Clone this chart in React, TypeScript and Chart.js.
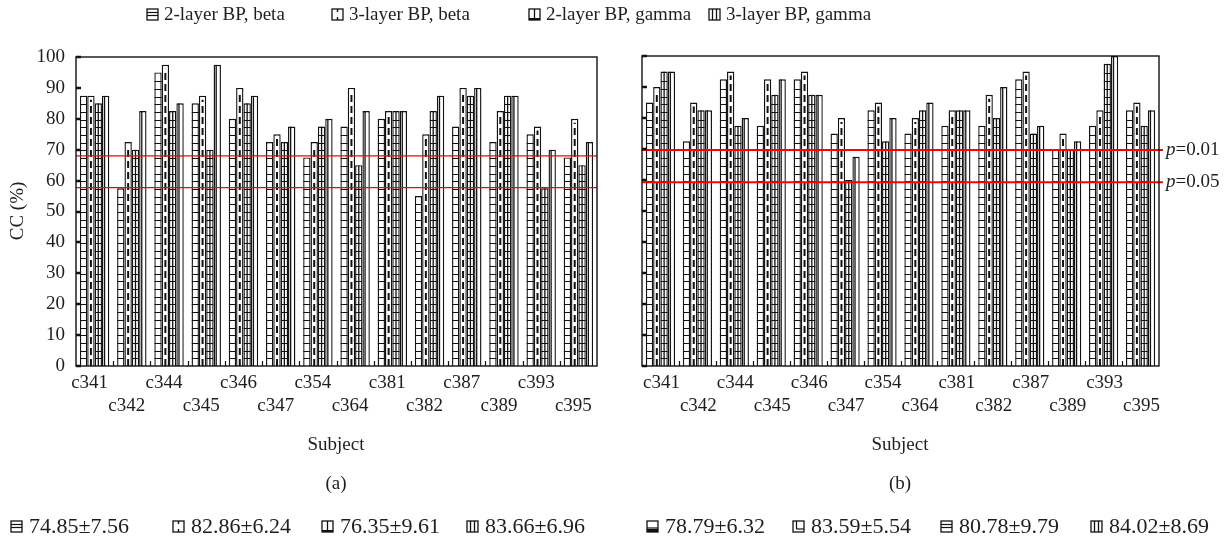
import React, { useEffect, useRef } from 'react';
import { Chart, registerables } from 'chart.js';

Chart.register(...registerables);

const FONT = '"Liberation Serif", "Times New Roman", serif';
const TEXT = '#1e1e1e';

// ---------------- data ----------------
const subjects = ['c341', 'c342', 'c344', 'c345', 'c346', 'c347', 'c354', 'c364', 'c381', 'c382', 'c387', 'c389', 'c393', 'c395'];
const seriesNames = ['2-layer BP, beta', '3-layer BP, beta', '2-layer BP, gamma', '3-layer BP, gamma'];

// panel (a)
const beta2A = [87.5, 57.5, 95, 85, 80, 72.5, 67.5, 77.5, 80, 55, 77.5, 72.5, 75, 67.5];
const beta3A = [87.5, 72.5, 97.5, 87.5, 90, 75, 72.5, 90, 82.5, 75, 90, 82.5, 77.5, 80];
const gamma2A = [85, 70, 82.5, 70, 85, 72.5, 77.5, 65, 82.5, 82.5, 87.5, 87.5, 57.5, 65];
const gamma3A = [87.5, 82.5, 85, 97.5, 87.5, 77.5, 80, 82.5, 82.5, 87.5, 90, 87.5, 70, 72.5];

// panel (b)
const beta2B = [85, 72.5, 92.5, 77.5, 92.5, 75, 82.5, 75, 77.5, 77.5, 92.5, 70, 77.5, 82.5];
const beta3B = [90, 85, 95, 92.5, 95, 80, 85, 80, 82.5, 87.5, 95, 75, 82.5, 85];
const gamma2B = [95, 82.5, 77.5, 87.5, 87.5, 60, 72.5, 82.5, 82.5, 80, 75, 70, 97.5, 77.5];
const gamma3B = [95, 82.5, 80, 92.5, 87.5, 67.5, 80, 85, 82.5, 90, 77.5, 72.5, 100, 82.5];

const yMin = 0;
const yMax = 100;
const yStep = 10;

const thresholdsA = [68, 57.7];
const thresholdsB = [69.7, 59.3];
const thresholdLabelsB = ['0.01', '0.05'];

const statsA = ['74.85±7.56', '82.86±6.24', '76.35±9.61', '83.66±6.96'];
const statsB = ['78.79±6.32', '83.59±5.54', '80.78±9.79', '84.02±8.69'];
const statIconsA = ['h', 'd', 'g2', 'g3'];
const statIconsB = ['hb', 'l', 'h', 'g3'];

// ---------------- drawing helpers ----------------
function decorateBar(ctx: CanvasRenderingContext2D, bar: any, di: number) {
  const { x, y, base, width } = bar.getProps(['x', 'y', 'base', 'width'], true);
  const l = x - width / 2;
  const r = x + width / 2;
  ctx.save();
  ctx.beginPath();
  ctx.rect(l, y, width, base - y);
  ctx.clip();
  ctx.strokeStyle = '#111';
  ctx.lineWidth = 1.1;
  if (di === 0 || di === 2) {
    ctx.beginPath();
    for (let yy = base - 7.7; yy > y + 3; yy -= 7.7) {
      const py = Math.round(yy) + 0.5;
      ctx.moveTo(l, py);
      ctx.lineTo(r, py);
    }
    ctx.stroke();
  }
  if (di === 1) {
    ctx.lineWidth = 2;
    ctx.setLineDash([7, 4]);
    ctx.beginPath();
    ctx.moveTo(x, base);
    ctx.lineTo(x, y + 4);
    ctx.stroke();
  }
  if (di === 2) {
    ctx.lineWidth = 1.3;
    ctx.beginPath();
    ctx.moveTo(x, base);
    ctx.lineTo(x, y);
    ctx.stroke();
  }
  if (di === 3) {
    ctx.lineWidth = 1.3;
    ctx.beginPath();
    ctx.moveTo(l + 2.6, base);
    ctx.lineTo(l + 2.6, y);
    ctx.stroke();
  }
  ctx.restore();
}

function makeOverlay(cfg: { thresholds: number[]; pLabels: string[] | null; labelShift: number; yTitle: string | null }) {
  return {
    id: 'overlay',
    afterDatasetsDraw(chart: any) {
      const ctx = chart.ctx as CanvasRenderingContext2D;
      chart.data.datasets.forEach((_ds: any, di: number) => {
        const meta = chart.getDatasetMeta(di);
        meta.data.forEach((bar: any) => decorateBar(ctx, bar, di));
      });
    },
    afterDraw(chart: any) {
      const ctx = chart.ctx as CanvasRenderingContext2D;
      const { left, right, top, bottom } = chart.chartArea;
      const ys = chart.scales.y;
      const xs = chart.scales.x;
      ctx.save();
      // threshold lines
      ctx.strokeStyle = '#ff0000';
      ctx.lineWidth = cfg.pLabels ? 2 : 1.3;
      cfg.thresholds.forEach((t, i) => {
        const py = ys.getPixelForValue(t);
        ctx.beginPath();
        ctx.moveTo(left, py);
        ctx.lineTo(cfg.pLabels ? right + 4 : right, py);
        ctx.stroke();
        if (cfg.pLabels) {
          ctx.fillStyle = TEXT;
          ctx.textBaseline = 'middle';
          ctx.textAlign = 'left';
          ctx.font = `italic 19px ${FONT}`;
          const x0 = right + 7;
          ctx.fillText('p', x0, py);
          const pw = ctx.measureText('p').width;
          ctx.font = `19px ${FONT}`;
          ctx.fillText('=' + cfg.pLabels[i], x0 + pw, py);
        }
      });
      // frame
      ctx.strokeStyle = '#111';
      ctx.lineWidth = 1.4;
      ctx.strokeRect(left, top, right - left, bottom - top);
      // inward y ticks
      ctx.lineWidth = 2.4;
      ctx.beginPath();
      for (let v = yMin; v <= yMax; v += yStep) {
        const py = Math.round(ys.getPixelForValue(v));
        ctx.moveTo(left, py);
        ctx.lineTo(left + 5, py);
      }
      ctx.stroke();
      // inward x ticks at group boundaries
      ctx.lineWidth = 1.2;
      ctx.beginPath();
      for (let i = 1; i < subjects.length; i++) {
        const px = Math.round((xs.getPixelForValue(i - 1) + xs.getPixelForValue(i)) / 2) + 0.5;
        ctx.moveTo(px, bottom);
        ctx.lineTo(px, bottom - 5);
      }
      ctx.stroke();
      // x labels, staggered in two rows
      ctx.fillStyle = TEXT;
      ctx.font = `19px ${FONT}`;
      ctx.textAlign = 'center';
      ctx.textBaseline = 'middle';
      subjects.forEach((s, i) => {
        const px = xs.getPixelForValue(i) + cfg.labelShift;
        ctx.fillText(s, px, i % 2 === 0 ? 383 : 406);
      });
      // y title
      if (cfg.yTitle) {
        ctx.save();
        ctx.translate(18, 211);
        ctx.rotate(-Math.PI / 2);
        ctx.fillText(cfg.yTitle, 0, 0);
        ctx.restore();
      }
      ctx.restore();
    },
  };
}

function buildDatasets(values: number[][]) {
  return values.map((v, i) => ({
    label: seriesNames[i],
    data: v,
    backgroundColor: '#ffffff',
    borderColor: '#111111',
    borderWidth: 1.4,
    categoryPercentage: 0.79,
    barPercentage: 1.0,
  }));
}

function Panel(props: {
  values: number[][];
  left: number;
  padding: { left: number; right: number; top: number; bottom: number };
  showY: boolean;
  thresholds: number[];
  pLabels: string[] | null;
  labelShift: number;
}) {
  const ref = useRef<HTMLCanvasElement | null>(null);
  useEffect(() => {
    if (!ref.current) return;
    const yScale: any = {
      display: props.showY,
      min: yMin,
      max: yMax,
      grid: { display: false, drawTicks: false },
      border: { display: false },
      ticks: {
        stepSize: yStep,
        padding: 11,
        color: TEXT,
        font: { family: FONT, size: 19 },
      },
    };
    if (props.showY) {
      yScale.afterFit = (scale: any) => {
        scale.width = 76;
      };
    }
    const chart = new Chart(ref.current, {
      type: 'bar',
      data: { labels: subjects, datasets: buildDatasets(props.values) as any },
      options: {
        responsive: false,
        animation: false,
        layout: { padding: props.padding },
        plugins: { legend: { display: false }, tooltip: { enabled: false } },
        scales: {
          x: { display: false, offset: true, grid: { display: false } },
          y: yScale,
        },
      },
      plugins: [makeOverlay({ thresholds: props.thresholds, pLabels: props.pLabels, labelShift: props.labelShift, yTitle: props.showY ? 'CC (%)' : null })],
    });
    return () => chart.destroy();
  }, []);
  return (
    <canvas
      ref={ref}
      width={613}
      height={540}
      style={{ position: 'absolute', left: props.left, top: 0, width: 613, height: 540, display: 'block' }}
    />
  );
}

function Icon({ kind }: { kind: string }) {
  const s = 11;
  return (
    <svg width={s + 2} height={s + 2} style={{ display: 'block', flex: 'none' }}>
      <rect x={1} y={1} width={s} height={s} fill="#fff" stroke="#111" strokeWidth={1.3} />
      {kind === 'h' && (
        <>
          <line x1={1} y1={4.5} x2={12} y2={4.5} stroke="#111" strokeWidth={1.2} />
          <line x1={1} y1={7.5} x2={12} y2={7.5} stroke="#111" strokeWidth={1.2} />
        </>
      )}
      {kind === 'hb' && (
        <>
          <line x1={1} y1={8} x2={12} y2={8} stroke="#111" strokeWidth={1.2} />
          <rect x={1} y={9} width={11} height={3} fill="#111" />
        </>
      )}
      {kind === 'd' && (
        <>
          <line x1={6.5} y1={1} x2={6.5} y2={4} stroke="#111" strokeWidth={1.4} />
          <line x1={6.5} y1={9} x2={6.5} y2={12} stroke="#111" strokeWidth={1.4} />
        </>
      )}
      {kind === 'l' && (
        <>
          <line x1={4.5} y1={1} x2={4.5} y2={9} stroke="#111" strokeWidth={1.2} />
          <line x1={4.5} y1={9} x2={12} y2={9} stroke="#111" strokeWidth={1.2} />
        </>
      )}
      {kind === 'g2' && (
        <>
          <line x1={6.5} y1={1} x2={6.5} y2={12} stroke="#111" strokeWidth={1.3} />
          <rect x={1} y={10} width={11} height={2} fill="#111" />
        </>
      )}
      {kind === 'g3' && (
        <>
          <line x1={4.5} y1={1} x2={4.5} y2={12} stroke="#111" strokeWidth={1.3} />
          <line x1={8.5} y1={1} x2={8.5} y2={12} stroke="#111" strokeWidth={1.3} />
        </>
      )}
    </svg>
  );
}

const textStyle: React.CSSProperties = {
  position: 'absolute',
  fontFamily: FONT,
  fontSize: 19,
  color: TEXT,
  whiteSpace: 'nowrap',
  lineHeight: '24px',
};

function IconText({ x, y, kind, text, size, gap }: { x: number; y: number; kind: string; text: string; size: number; gap: number }) {
  return (
    <div style={{ ...textStyle, fontSize: size, left: x, top: y - 12, display: 'flex', alignItems: 'center', gap }}>
      <Icon kind={kind} />
      <span>{text}</span>
    </div>
  );
}

function Centered({ x, y, text }: { x: number; y: number; text: string }) {
  return <div style={{ ...textStyle, left: x - 100, top: y - 12, width: 200, textAlign: 'center' }}>{text}</div>;
}

const legendIcons = ['h', 'd', 'g2', 'g3'];
const legendX = [146, 331, 528, 708];
const statsAX = [10, 172, 321, 466];
const statsBX = [646, 792, 940, 1090];

export default function App() {
  return (
    <div style={{ position: 'absolute', left: 0, top: 0, width: 1226, height: 540, background: '#fff', overflow: 'hidden' }}>
      <Panel
        values={[beta2A, beta3A, gamma2A, gamma3A]}
        left={0}
        padding={{ left: 0, right: 16, top: 57, bottom: 174 }}
        showY={true}
        thresholds={thresholdsA}
        pLabels={null}
        labelShift={-5}
      />
      <Panel
        values={[beta2B, beta3B, gamma2B, gamma3B]}
        left={613}
        padding={{ left: 29, right: 67, top: 56, bottom: 174 }}
        showY={false}
        thresholds={thresholdsB}
        pLabels={thresholdLabelsB}
        labelShift={1}
      />
      {seriesNames.map((n, i) => (
        <IconText key={n} x={legendX[i]} y={14} kind={legendIcons[i]} text={n} size={19} gap={5} />
      ))}
      <Centered x={336} y={444} text="Subject" />
      <Centered x={900} y={444} text="Subject" />
      <Centered x={336} y={483} text="(a)" />
      <Centered x={900} y={483} text="(b)" />
      {statsA.map((s, i) => (
        <IconText key={'a' + i} x={statsAX[i]} y={526} kind={statIconsA[i]} text={s} size={22} gap={6} />
      ))}
      {statsB.map((s, i) => (
        <IconText key={'b' + i} x={statsBX[i]} y={526} kind={statIconsB[i]} text={s} size={22} gap={6} />
      ))}
    </div>
  );
}
